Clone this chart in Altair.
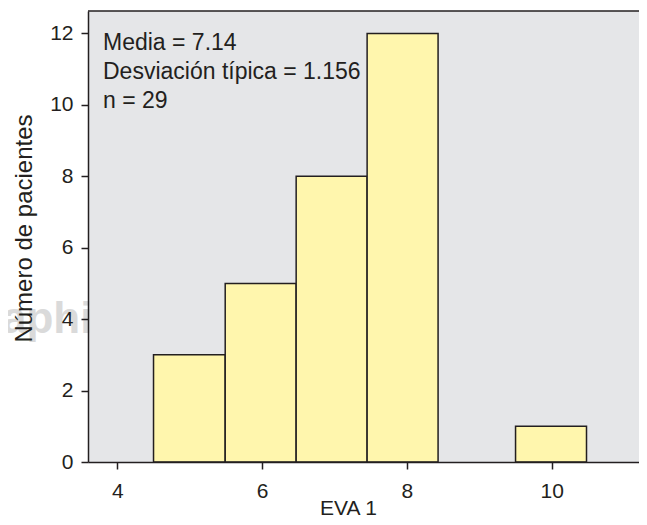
import altair as alt
import pandas as pd

# Histogram data
bin_start = [4.50, 5.49, 6.47, 7.45, 9.50]
bin_end = [5.49, 6.47, 7.45, 8.43, 10.48]
counts = [3, 5, 8, 12, 1]
x_ticks = [4, 6, 8, 10]
y_ticks = [0, 2, 4, 6, 8, 10, 12]
stats_lines = ["Media = 7.14", "Desviación típica = 1.156", "n = 29"]
x_title = "EVA 1"
y_title = "Número de pacientes"
watermark = "aphi"

df = pd.DataFrame({"start": bin_start, "end": bin_end, "count": counts})
one = pd.DataFrame({"k": [0]})

W, H = 551, 451
INK = "#231f20"
FONT = "Liberation Sans"

xscale = alt.Scale(domain=[3.595, 11.205], nice=False, zero=False)
yscale = alt.Scale(domain=[0, 12.63], nice=False)

x_axis = alt.Axis(
    values=x_ticks, format="d", grid=False, title=x_title,
    tickSize=7, tickWidth=1.5, tickColor=INK,
    domainColor=INK, domainWidth=1.5,
    labelFont=FONT, labelFontSize=21, labelColor=INK, labelPadding=11,
    titleFont=FONT, titleFontSize=21, titleFontWeight="normal", titleColor=INK,
    titleX=260, titleY=52, titleBaseline="alphabetic", titleAlign="center",
    zindex=1,
)
y_axis = alt.Axis(
    values=y_ticks, format="d", grid=False, title=y_title,
    tickSize=7, tickWidth=1.5, tickColor=INK,
    domainColor=INK, domainWidth=1.5,
    labelFont=FONT, labelFontSize=21, labelColor=INK, labelPadding=8,
    titleFont=FONT, titleFontSize=24, titleFontWeight="normal", titleColor=INK,
    titleX=-57, titleY=217, titleBaseline="alphabetic", titleAlign="center",
    titleAngle=270, zindex=1,
)

wm = alt.Chart(one).mark_text(
    text=watermark, font=FONT, fontWeight="bold", fontSize=44,
    color="#dadada", align="left", baseline="alphabetic",
).encode(x=alt.value(-86), y=alt.value(322))

bars = alt.Chart(df).mark_rect(
    fill="#fff6ad", stroke=INK, strokeWidth=1.5
).encode(
    x=alt.X("start:Q", scale=xscale, axis=x_axis),
    x2="end:Q",
    y=alt.Y("count:Q", scale=yscale, axis=y_axis),
    y2=alt.datum(0),
)

top_rule = alt.Chart(one).mark_rule(stroke=INK, strokeWidth=1.5).encode(
    x=alt.value(0), x2=alt.value(W), y=alt.value(0)
)

stats = alt.Chart(one).mark_text(
    font=FONT, fontSize=23, color=INK, align="left", baseline="alphabetic",
    lineHeight=29,
).encode(x=alt.value(15), y=alt.value(39), text=alt.value(stats_lines))

chart = alt.layer(wm, bars, top_rule, stats).properties(
    width=W, height=H,
    autosize=alt.AutoSizeParams(type="none"),
    padding={"left": 80, "top": 3, "right": 0, "bottom": 55},
    background="white",
).configure_view(fill="#e5e6e8", stroke=None)

chart.save("out.html", embed_options={"renderer": "svg", "actions": False})
